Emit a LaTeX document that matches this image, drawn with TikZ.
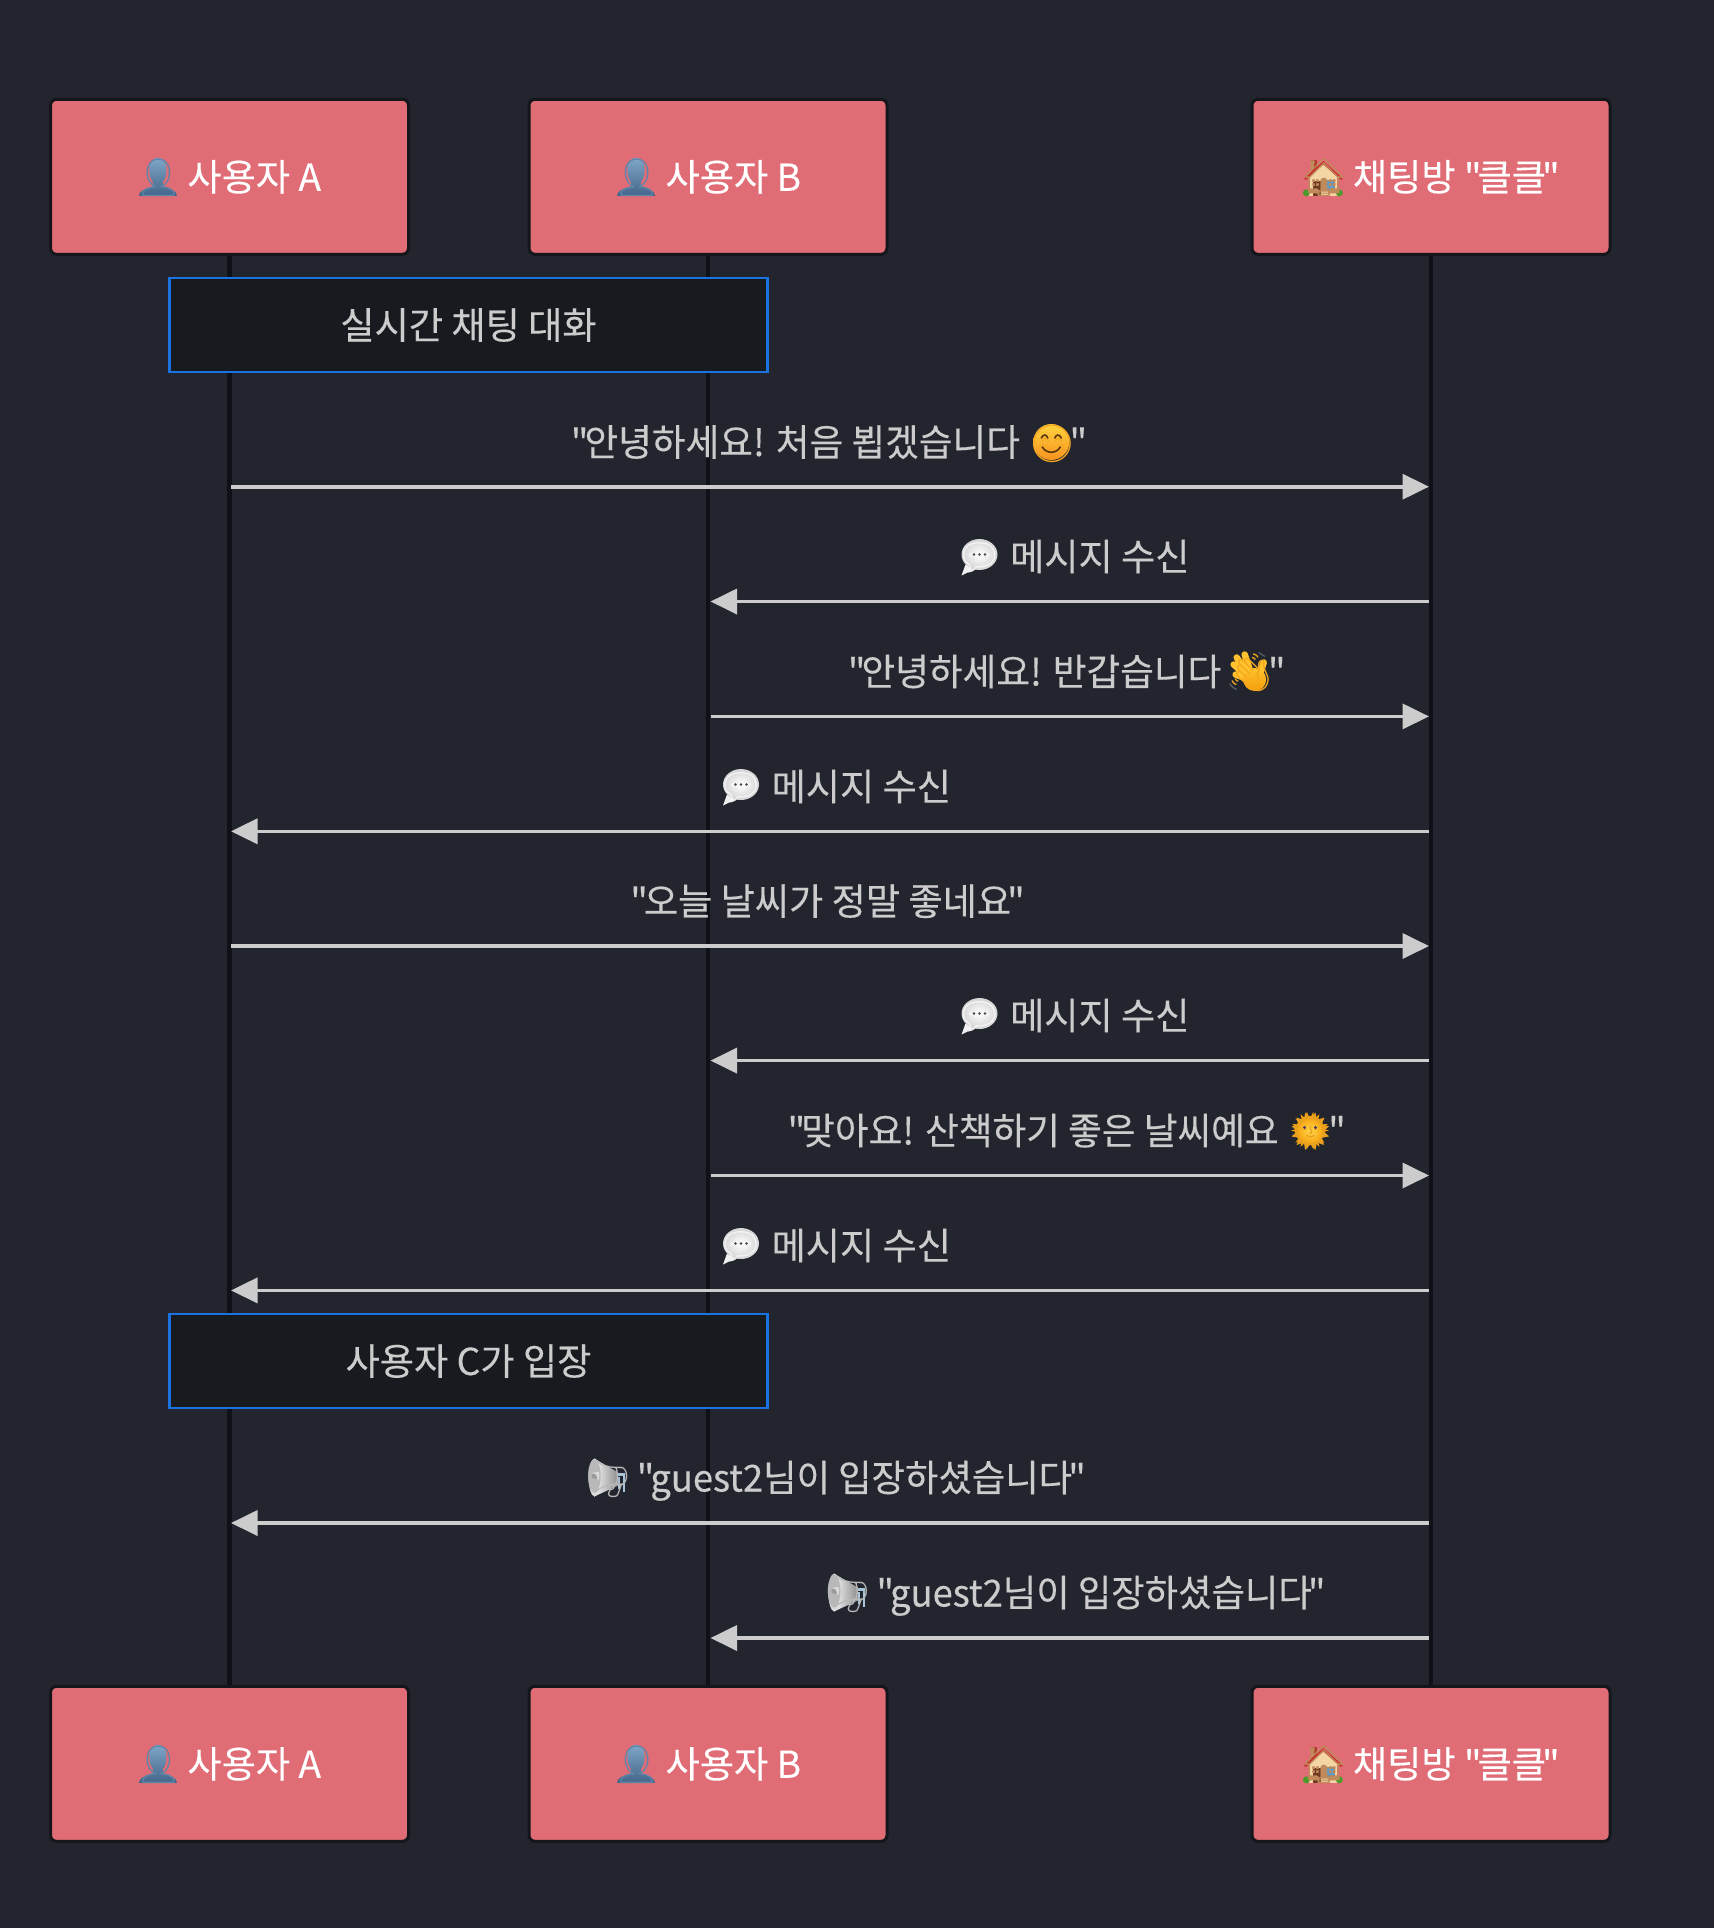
\documentclass[tikz,border=0pt]{standalone}
\usepackage{fontspec}
\usetikzlibrary{arrows.meta}
\newfontfamily\kr[FakeBold=0.25]{Noto Sans CJK KR}
\newfontfamily\krsa[FakeBold=0.25,FakeStretch=0.985]{Noto Sans CJK KR}
\newfontfamily\krsb[FakeBold=0.25,FakeStretch=0.977]{Noto Sans CJK KR}
\newfontfamily\emo{Noto Emoji}
\definecolor{bgc}{HTML}{22252E}
\definecolor{boxc}{HTML}{E06C75}
\definecolor{edgec}{HTML}{14161C}
\definecolor{lifec}{HTML}{0F1118}
\definecolor{notec}{HTML}{171A1F}
\definecolor{noteb}{HTML}{1A73E0}
\definecolor{msgc}{HTML}{CCCCCC}
\newsavebox\emobox
% back drawing, glyph colour, glyph, front drawing
\newcommand{\emjx}[4]{\sbox\emobox{\emo\textcolor{#2}{#3}}%
 \rlap{\tikz[baseline=0pt,x=1pt,y=1pt,sharp corners]{\useasboundingbox (0,0); #1}}%
 \rlap{\usebox\emobox}%
 \rlap{\tikz[baseline=0pt,x=1pt,y=1pt,sharp corners]{\useasboundingbox (0,0); #4}}%
 \hspace{\dimexpr\wd\emobox-3pt\relax}}
\newcommand{\qo}{"\kern-4pt}
\newcommand{\qc}{\kern-4pt"}
\newcommand{\qe}{\kern-3pt"}
\newcommand{\ebust}{\emjx{\shade[top color=7FA6C8,bottom color=43658A] (4,-5) .. controls (4,0) and (10,2) .. (18,4.5) -- (18,9) .. controls (13,14) and (12,33) .. (23,33) .. controls (34,33) and (33,14) .. (28,9) -- (28,4.5) .. controls (36,2) and (42,0) .. (42,-5) -- cycle;}{5F86A9}{👤}{}}
\definecolor{7FA6C8}{HTML}{7FA6C8}\definecolor{43658A}{HTML}{43658A}\definecolor{5F86A9}{HTML}{5F86A9}
\newcommand{\ehouse}{\emjx{\fill[B03A2E] (11,16) rectangle (17,31);
  \fill[F3D6A4] (9,-5) rectangle (37,16);
  \fill[F3D6A4] (9,14) -- (23,27) -- (37,14) -- cycle;
  \draw[C8302A,line width=2.5pt,line cap=round] (5,12) -- (23,28) -- (41,12);
  \fill[6E3B22] (13,-5) rectangle (21,10);
  \fill[8A8A8A] (24,1) rectangle (35,11);
  \fill[5E9CC9] (25.5,2.5) rectangle (33.5,9.5);
  \fill[4C9A2A] (6,-2) circle (3.5) (39,-2) circle (3.5);}{C08A5A}{🏠}{}}
\definecolor{B03A2E}{HTML}{B03A2E}\definecolor{F3D6A4}{HTML}{F3D6A4}\definecolor{C8302A}{HTML}{C8302A}\definecolor{6E3B22}{HTML}{6E3B22}\definecolor{8A8A8A}{HTML}{8A8A8A}\definecolor{5E9CC9}{HTML}{5E9CC9}\definecolor{4C9A2A}{HTML}{4C9A2A}\definecolor{C08A5A}{HTML}{C08A5A}
\newcommand{\ebubble}{\hspace{-2pt}\emjx{\fill[F0F0F0] (10,6) -- (6,-5) -- (20,2) -- cycle;
  \shade[inner color=white,outer color=D4D4D4] (24,16) ellipse (18 and 15.5);}{F4F4F4}{💬}{\fill[444444] (18.5,16) circle (1.3) (24,16) circle (1.3) (29.5,16) circle (1.3);}\hspace{2pt}}
\definecolor{F0F0F0}{HTML}{F0F0F0}\definecolor{D4D4D4}{HTML}{D4D4D4}\definecolor{F4F4F4}{HTML}{F4F4F4}\definecolor{444444}{HTML}{444444}
\newcommand{\esmile}{\emjx{\shade[top color=FFD23F,bottom color=F7931E] (23,14) circle (18);}{F5A623}{😊}{\draw[5B3410,line width=1.6pt,line cap=round] (13,18) .. controls (15,22) and (18,22) .. (19.5,18) (26.5,18) .. controls (28,22) and (31,22) .. (33,18) (14,9) .. controls (18,2) and (28,2) .. (32,9);}}
\definecolor{FFD23F}{HTML}{FFD23F}\definecolor{F7931E}{HTML}{F7931E}\definecolor{F5A623}{HTML}{F5A623}\definecolor{5B3410}{HTML}{5B3410}
\newcommand{\ewave}{\emjx{\draw[5A5F68,line width=1.2pt] (32,33) .. controls (36,31) and (38,28) .. (38,30) (3,2) .. controls (5,-2) and (8,-3) .. (10,-4);
  \draw[FFC12E,line width=6.5pt,line cap=round] (25,10) -- (18,31) (23,9) -- (10,28) (22,8) -- (7,21) (22,6) -- (9,11) (32,8) -- (37,23);
  \shade[top color=FFC12E,bottom color=F59E0B] (28,6) circle (11.5);}{F3A81C}{👋}{}}
\definecolor{5A5F68}{HTML}{5A5F68}\definecolor{FFC12E}{HTML}{FFC12E}\definecolor{F59E0B}{HTML}{F59E0B}\definecolor{F3A81C}{HTML}{F3A81C}
\newcommand{\esun}{\emjx{\foreach \a in {0,20,...,340}{\fill[F59E0B] ({23+14*cos(\a-6)},{14+14*sin(\a-6)}) -- ({23+19*cos(\a)},{14+19*sin(\a)}) -- ({23+14*cos(\a+6)},{14+14*sin(\a+6)}) -- cycle;}
  \shade[inner color=FFD84A,outer color=F59E0B] (23,14) circle (14.5);}{E8A020}{🌞}{\fill[4A3B66] (17.5,17) circle (1.7) (28.5,17) circle (1.7);}}
\definecolor{FFD84A}{HTML}{FFD84A}\definecolor{E8A020}{HTML}{E8A020}\definecolor{4A3B66}{HTML}{4A3B66}
\newcommand{\emega}{\emjx{\draw[A9C4D8,line width=2.5pt] (33,17) -- (40,17) -- (40,0) (35,15) -- (35,3);
  \shade[left color=F2F2F2,right color=8E8E8E] (10,33) -- (34,19) -- (34,6) -- (10,-5) -- cycle;
  \fill[DADADA] (10.5,14) ellipse (6 and 19);
  \fill[9A9A9A] (9,14) circle (4);}{B8B8B8}{\reflectbox{📢}}{}}
\definecolor{A9C4D8}{HTML}{A9C4D8}\definecolor{F2F2F2}{HTML}{F2F2F2}\definecolor{8E8E8E}{HTML}{8E8E8E}\definecolor{DADADA}{HTML}{DADADA}\definecolor{9A9A9A}{HTML}{9A9A9A}\definecolor{B8B8B8}{HTML}{B8B8B8}
\tikzset{
 txt/.style={font=\kr\fontsize{37.2}{40}\selectfont,text height=36pt,text depth=8pt},
 actorbox/.style={txt,draw=edgec,line width=3pt,fill=boxc,rounded corners=6pt,minimum width=358pt,minimum height=155pt,text=white,inner sep=0pt},
 notebox/.style={txt,draw=noteb,line width=2.8pt,fill=notec,minimum width=598pt,minimum height=94pt,text=msgc,inner sep=0pt},
 lifeline/.style={draw=lifec,line width=4.5pt},
 msg/.style={draw=msgc,line width=3.6pt,-{Triangle[length=26.5pt,width=25pt]}},
 msglabel/.style={txt,text=msgc,inner sep=0pt,anchor=center},
}
\begin{document}
\begin{tikzpicture}[x=1pt,y=-1pt]
\useasboundingbox (0,0) rectangle (1714,1928);
\fill[bgc] (0,0) rectangle (1714,1928);
\node[actorbox] (a) at (229.5,176.8) {\ebust{} 사용자 A\kern3pt\null};
\node[actorbox] (b) at (708,176.8) {\ebust{} 사용자 B\kern2pt\null};
\node[actorbox] (c) at (1431,176.8) {\ehouse{} 채팅방 \qo 클클\qc\kern2pt\null};
\node[actorbox] (a2) at (229.5,1763.8) {\ebust{} 사용자 A\kern3pt\null};
\node[actorbox] (b2) at (708,1763.8) {\ebust{} 사용자 B\kern2pt\null};
\node[actorbox] (c2) at (1431,1763.8) {\ehouse{} 채팅방 \qo 클클\qc\kern2pt\null};
\draw[lifeline] (a) -- (a2);
\draw[lifeline] (b) -- (b2);
\draw[lifeline] (c) -- (c2);
\node[notebox] (n1) at (468.5,325) {실시간 채팅 대화};
\node[notebox] (n2) at (468.5,1361) {사용자 C가 입장};
\foreach \n/\y in {1/486.7,2/601.5,3/716.4,4/831.3,5/946,6/1060.6,7/1175.5,8/1290.4,9/1523,10/1638}{
  \coordinate (ma\n) at (231,\y);
  \coordinate (mb\n) at (710.5,\y);
  \coordinate (mc\n) at (1429,\y);
}
\draw[msg] (ma1) -- (mc1);
\draw[msg] (mc2) -- (mb2);
\draw[msg] (mb3) -- (mc3);
\draw[msg] (mc4) -- (ma4);
\draw[msg] (ma5) -- (mc5);
\draw[msg] (mc6) -- (mb6);
\draw[msg] (mb7) -- (mc7);
\draw[msg] (mc8) -- (ma8);
\draw[msg] (mc9) -- (ma9);
\draw[msg] (mc10) -- (mb10);
\node[msglabel] (l1) at (829,442) {\qo{\krsa 안녕하세요! 처음 뵙겠습니다} \esmile\qe};
\node[msglabel] (l2) at (1073.5,556.5) {\ebubble{} 메시지 수신};
\node[msglabel] (l3) at (1066.7,671.5) {\qo{\krsa 안녕하세요! 반갑습니다}\kern-3pt{} \ewave\qe};
\node[msglabel] (l4) at (835,786.5) {\ebubble{} 메시지 수신};
\node[msglabel] (l5) at (827.5,901) {\qo 오늘 날씨가 정말 좋네요\qc};
\node[msglabel] (l6) at (1073.5,1015.5) {\ebubble{} 메시지 수신};
\node[msglabel] (l7) at (1066.7,1130.5) {\qo{\krsa 맞아요! 산책하기 좋은 날씨예요} \esun\qe};
\node[msglabel] (l8) at (835,1245.5) {\ebubble{} 메시지 수신};
\node[msglabel] (l9) at (835,1477.5) {\emega{} \qo{\krsb guest2님이 입장하셨습니다}\qc};
\node[msglabel] (l10) at (1074.7,1592.5) {\emega{} \qo{\krsb guest2님이 입장하셨습니다}\qc};
\end{tikzpicture}
\end{document}
